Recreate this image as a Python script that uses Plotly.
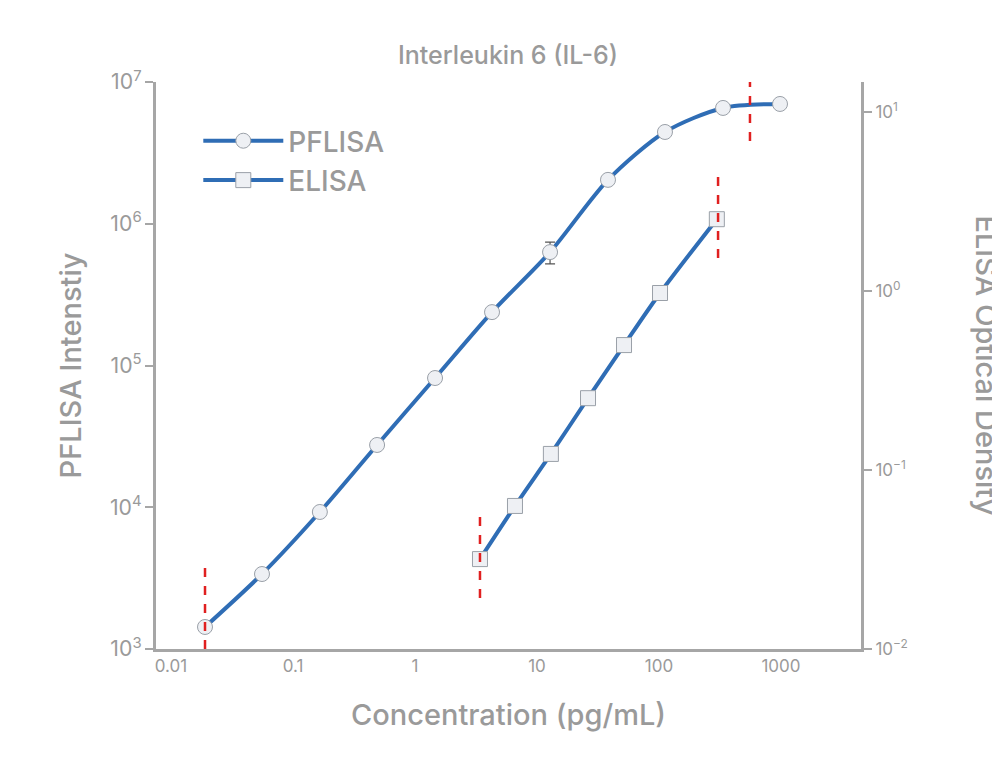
import plotly.graph_objects as go

pf_conc = [0.019, 0.0557, 0.166, 0.489, 1.46, 4.28, 12.8, 38.2, 112, 335, 982]
pf_int = [1430, 3380, 9260, 27500, 81600, 238000, 631000, 2040000, 4440000, 6560000, 7000000]
pf_err = [0, 0, 0, 0, 0, 0, 110000, 0, 0, 0, 0]
el_conc = [3.41, 6.6, 13.0, 26.2, 51.7, 102, 298]
el_od = [0.0318, 0.063, 0.123, 0.252, 0.499, 0.975, 2.52]
lod_pf = [(0.019, [1000, 4180]), (557, [3.84e6, 1.55e7])]
lod_el = [(3.41, [0.0193, 0.0568]), (305, [1.53, 4.56])]
y2_ticks = [0.01, 0.1, 1, 10]
y2_labels = ["10<sup>−2</sup>", "10<sup>−1</sup>", "10<sup>0</sup>", "10<sup>1</sup>"]

BLUE = "#2f6db5"
GREY = "#a6a6a6"
TXT = "#9a9a9a"
FONT = "Inter"

fig = go.Figure()
mk = dict(color="#eef0f4", size=15, line=dict(color="#9aa0a8", width=1))
fig.add_trace(go.Scatter(x=pf_conc, y=pf_int, mode="lines+markers", name="PFLISA",
    line=dict(color=BLUE, width=4, shape="spline", smoothing=0.8), marker=dict(symbol="circle", **mk),
    error_y=dict(type="data", array=pf_err, color="#555", thickness=1.2, width=5)))
fig.add_trace(go.Scatter(x=el_conc, y=el_od, mode="lines+markers", name="ELISA", yaxis="y2",
    line=dict(color=BLUE, width=4, shape="spline", smoothing=0.8), marker=dict(symbol="square", **mk)))
for xv, ys in lod_pf:
    fig.add_trace(go.Scatter(x=[xv, xv], y=ys, mode="lines", showlegend=False,
        line=dict(color="#e02020", width=2.5, dash="dash")))
for xv, ys in lod_el:
    fig.add_trace(go.Scatter(x=[xv, xv], y=ys, mode="lines", showlegend=False, yaxis="y2",
        line=dict(color="#e02020", width=2.5, dash="dash")))

ax = dict(showline=True, linecolor=GREY, linewidth=3, showgrid=False, zeroline=False, automargin=False,
          ticks="outside", tickcolor=GREY, tickwidth=2, tickfont=dict(size=17, color=TXT, family=FONT))
fig.update_layout(
    width=1000, height=772, plot_bgcolor="white", paper_bgcolor="white",
    margin=dict(l=148, r=147, t=74, b=131),
    font=dict(family=FONT, color=TXT),
    title=dict(text="Interleukin 6 (IL-6)", x=0.5, xanchor="center", y=0.939, yanchor="middle",
               font=dict(size=25, color=TXT, family=FONT, weight=500)),
    xaxis=dict(type="log", range=[-2.123, 3.656], tickvals=[0.01, 0.1, 1, 10, 100, 1000],
               ticktext=["0.01", "0.1", "1", "10", "100", "1000"], ticklen=0,
               title=dict(text="Concentration (pg/mL)", font=dict(size=29, color=TXT, weight=500), standoff=30), **ax),
    yaxis=dict(type="log", range=[3, 7], dtick=1, exponentformat="power", ticklen=8,
               title=dict(text="PFLISA Intenstiy", font=dict(size=29, color=TXT, weight=500), standoff=20), **ax),
    yaxis2=dict(type="log", range=[-2, 1.168], tickvals=y2_ticks, ticktext=y2_labels, overlaying="y",
                side="right", ticklen=8, **ax),
    legend=dict(x=0.06, y=0.94, xanchor="left", yanchor="top", font=dict(size=28, color=TXT, weight=500),
                itemwidth=80, tracegroupgap=10, bgcolor="rgba(0,0,0,0)"),
    annotations=[dict(text="ELISA Optical Density", textangle=90, xref="paper", yref="paper",
                      x=1.205, y=0.5, showarrow=False, font=dict(size=29, color=TXT, weight=500))],
)
fig.write_html("out.html")
